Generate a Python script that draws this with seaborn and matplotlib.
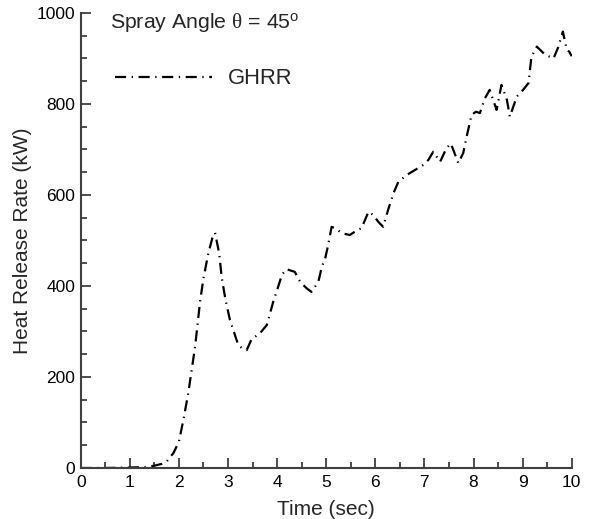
import matplotlib
matplotlib.use("Agg")
import matplotlib.pyplot as plt
import seaborn as sns
import pandas as pd
from matplotlib.ticker import MultipleLocator

# Data
time_sec = [0, 0.5, 1.0, 1.3, 1.5, 1.65, 1.75, 1.89, 2.0, 2.09, 2.19, 2.33, 2.43, 2.50,
            2.60, 2.68, 2.735, 2.82, 2.87, 2.95, 3.04, 3.21, 3.30, 3.38, 3.48, 3.65, 3.79,
            3.92, 4.02, 4.10, 4.19, 4.36, 4.47, 4.60, 4.70, 4.84, 4.91, 4.98, 5.04, 5.11,
            5.18, 5.32, 5.48, 5.62, 5.72, 5.86, 5.96, 6.06, 6.16, 6.26, 6.37, 6.47, 6.64,
            6.81, 6.98, 7.08, 7.18, 7.32, 7.45, 7.54, 7.69, 7.79, 7.86, 7.96, 8.05, 8.13,
            8.23, 8.33, 8.40, 8.47, 8.57, 8.68, 8.74, 8.88, 9.01, 9.12, 9.18, 9.29, 9.46,
            9.63, 9.73, 9.82, 9.90, 9.95, 10.0]
ghrr_kw = [0, 0, 1, 2, 5, 9, 14, 33, 58, 105, 164, 267, 365, 417,
           472, 505, 517, 472, 420, 369, 325, 270, 262, 259, 283, 296, 314,
           365, 398, 425, 437, 431, 409, 395, 387, 409, 442, 461, 490, 530,
           527, 516, 512, 522, 527, 563, 556, 541, 530, 567, 604, 629, 644,
           655, 666, 677, 695, 673, 703, 713, 670, 692, 728, 776, 783, 780,
           812, 831, 809, 787, 842, 809, 772, 816, 831, 846, 904, 926, 908,
           900, 926, 959, 919, 915, 905]

x_ticks = [0, 1, 2, 3, 4, 5, 6, 7, 8, 9, 10]
y_ticks = [0, 200, 400, 600, 800, 1000]
title_text = r"Spray Angle $\theta$ = 45$^{\rm o}$"
series_name = "GHRR"

sns.set_style("ticks")
plt.rcParams["font.family"] = ["Liberation Sans", "DejaVu Sans"]
plt.rcParams["mathtext.fontset"] = "custom"
plt.rcParams["mathtext.rm"] = "Liberation Sans"
plt.rcParams["mathtext.it"] = "Liberation Serif"

df = pd.DataFrame({"Time (sec)": time_sec, "Heat Release Rate (kW)": ghrr_kw})

fig = plt.figure(figsize=(5.9, 5.19), dpi=100)
ax = fig.add_axes([0.1368, 0.0983, 0.8322, 0.8767])

sns.lineplot(data=df, x="Time (sec)", y="Heat Release Rate (kW)", ax=ax,
             color="black", linewidth=1.6, label=series_name, sort=False)
ax.lines[0].set_linestyle((0, (5, 2.5, 0.6, 2.5)))

ax.set_xlim(0, 10)
ax.set_ylim(0, 1000)
ax.set_xticks(x_ticks)
ax.set_yticks(y_ticks)
ax.xaxis.set_minor_locator(MultipleLocator(0.5))
ax.yaxis.set_minor_locator(MultipleLocator(50))

for side in ["top", "right"]:
    ax.spines[side].set_visible(False)
for side in ["left", "bottom"]:
    ax.spines[side].set_color("#404040")
    ax.spines[side].set_linewidth(1.5)

ax.tick_params(which="both", direction="in", colors="#404040", labelcolor="black",
               labelsize=12.5, width=1.3)
ax.tick_params(which="major", length=7)
ax.tick_params(which="minor", length=4)
ax.tick_params(axis="x", pad=5)
ax.tick_params(axis="y", pad=4)

ax.set_xlabel("Time (sec)", fontsize=15, labelpad=7)
ax.set_ylabel("Heat Release Rate (kW)", fontsize=15, labelpad=3)

ax.text(0.06, 0.978, title_text, transform=ax.transAxes, fontsize=15.3,
        ha="left", va="center")

leg = ax.legend(loc="center left", bbox_to_anchor=(0.07, 0.855), frameon=False,
                handlelength=4.4, handletextpad=0.75, borderpad=0, borderaxespad=0,
                fontsize=15.8)

fig.savefig("out.png", dpi=100)
